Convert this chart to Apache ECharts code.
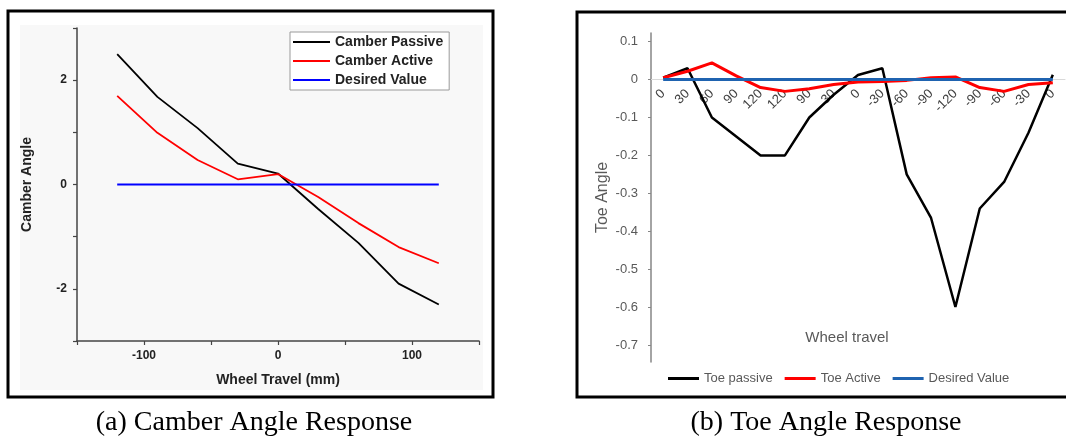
<!DOCTYPE html>
<html>
<head>
<meta charset="utf-8">
<script src="https://cdn.jsdelivr.net/npm/echarts@6/dist/echarts.min.js"></script>
<style>
  html, body { margin: 0; padding: 0; background: #fff; }
  #chart { width: 1066px; height: 443px; }
</style>
</head>
<body>
<div id="chart"></div>
<script>
// (a) camber angle vs wheel travel (mm)
const camberTravel = [-120, -90, -60, -30, 0, 30, 60, 90, 120];
const camberPassive = [2.5, 1.68, 1.08, 0.4, 0.21, -0.47, -1.12, -1.9, -2.3];
const camberActive = [1.7, 0.99, 0.47, 0.1, 0.2, -0.24, -0.74, -1.2, -1.51];
const camberDesired = [0, 0, 0, 0, 0, 0, 0, 0, 0];
const camberYLabels = [-2, 0, 2];
const camberXLabels = [-100, 0, 100];

// (b) toe angle over the wheel travel cycle
const toeTravel = ["0", "30", "60", "90", "120", "120", "90", "30", "0", "-30", "-60", "-90", "-120", "-90", "-60", "-30", "0"];
const toePassive = [0.005, 0.03, -0.1, -0.15, -0.2, -0.2, -0.1, -0.04, 0.012, 0.03, -0.25, -0.365, -0.6, -0.34, -0.27, -0.14, 0.013];
const toeActive = [0.005, 0.022, 0.044, 0.01, -0.021, -0.031, -0.024, -0.013, -0.006, -0.005, -0.002, 0.005, 0.007, -0.021, -0.031, -0.013, -0.008];
const toeDesired = [0, 0, 0, 0, 0, 0, 0, 0, 0, 0, 0, 0, 0, 0, 0, 0, 0];
const toeYLabels = [0.1, 0, -0.1, -0.2, -0.3, -0.4, -0.5, -0.6, -0.7];
const TOE_MIN = -0.745, TOE_MAX = 0.123;

const pairs = (xs, ys) => xs.map((x, i) => [x, ys[i]]);

const SANS = "Liberation Sans";
const SERIF = "Liberation Serif";
const GREY = "#595959";

// grid (b) geometry; category axis is lifted from the bottom up to the zero line
const gridB = { left: 651, top: 33, width: 414, height: 329 };
const zeroLift = gridB.height * (0 - TOE_MIN) / (TOE_MAX - TOE_MIN);

const chart = echarts.init(document.getElementById("chart"), null, { renderer: "canvas" });

chart.setOption({
  backgroundColor: "#ffffff",
  animation: false,
  grid: [
    { left: 77, top: 28, width: 402, height: 313 },
    gridB,
  ],
  xAxis: [
    {
      gridIndex: 0, type: "value", min: -150, max: 150, interval: 50,
      axisLine: { onZero: false, lineStyle: { color: "#444", width: 1.5 } },
      axisTick: { length: 4, lineStyle: { color: "#444", width: 1.2 } },
      axisLabel: { customValues: camberXLabels, margin: 9, color: "#222", fontFamily: SANS, fontSize: 12, fontWeight: "bold" },
      splitLine: { show: false },
      name: "Wheel Travel (mm)", nameLocation: "middle", nameGap: 32,
      nameTextStyle: { color: "#222", fontFamily: SANS, fontSize: 14, fontWeight: "bold" },
    },
    {
      gridIndex: 1, type: "category", data: toeTravel, boundaryGap: true,
      position: "bottom", offset: -zeroLift,
      axisLine: { onZero: false, lineStyle: { color: "#d9d9d9", width: 1 } },
      axisTick: { show: false },
      axisLabel: { interval: 0, rotate: 45, margin: 12, color: "#404040", fontFamily: SANS, fontSize: 13 },
      splitLine: { show: false },
    },
  ],
  yAxis: [
    {
      gridIndex: 0, type: "value", min: -3, max: 3, interval: 1,
      axisLine: { show: true, onZero: false, lineStyle: { color: "#444", width: 1.5 } },
      axisTick: { show: true, length: 4, lineStyle: { color: "#444", width: 1.2 } },
      axisLabel: { customValues: camberYLabels, margin: 10, color: "#222", fontFamily: SANS, fontSize: 12, fontWeight: "bold" },
      splitLine: { show: false },
      name: "Camber Angle", nameLocation: "middle", nameGap: 43,
      nameTextStyle: { color: "#222", fontFamily: SANS, fontSize: 14, fontWeight: "bold" },
    },
    {
      gridIndex: 1, type: "value", min: TOE_MIN, max: TOE_MAX,
      axisLine: { show: true, onZero: false, lineStyle: { color: "#868686", width: 1.5 } },
      axisTick: { show: true, customValues: toeYLabels, length: 3, lineStyle: { color: "#868686" } },
      axisLabel: { customValues: toeYLabels, margin: 13, color: GREY, fontFamily: SANS, fontSize: 13 },
      splitLine: { show: false },
      name: "Toe Angle", nameLocation: "middle", nameGap: 40,
      nameTextStyle: { color: GREY, fontFamily: SANS, fontSize: 16 },
    },
  ],
  legend: [
    {
      orient: "vertical", left: 290, top: 32,
      data: ["Camber Passive", "Camber Active", "Desired Value "],
      icon: "rect", itemWidth: 37, itemHeight: 2, itemGap: 5,
      padding: [3, 6, 3, 3],
      backgroundColor: "#fff", borderColor: "#9a9a9a", borderWidth: 1,
      textStyle: { color: "#222", fontFamily: SANS, fontSize: 14, fontWeight: "bold", lineHeight: 14 },
    },
    {
      orient: "horizontal", left: 663, top: 367,
      data: ["Toe passive", "Toe Active", "Desired Value"],
      icon: "rect", itemWidth: 31, itemHeight: 3, itemGap: 12,
      textStyle: { color: GREY, fontFamily: SANS, fontSize: 13 },
    },
  ],
  series: [
    { name: "Camber Passive", type: "line", xAxisIndex: 0, yAxisIndex: 0, data: pairs(camberTravel, camberPassive),
      symbol: "none", color: "#000000", lineStyle: { width: 1.8 } },
    { name: "Camber Active", type: "line", xAxisIndex: 0, yAxisIndex: 0, data: pairs(camberTravel, camberActive),
      symbol: "none", color: "#ff0000", lineStyle: { width: 1.8 } },
    { name: "Desired Value ", type: "line", xAxisIndex: 0, yAxisIndex: 0, data: pairs(camberTravel, camberDesired),
      symbol: "none", color: "#0000ff", lineStyle: { width: 1.8 } },
    { name: "Toe passive", type: "line", xAxisIndex: 1, yAxisIndex: 1, data: toePassive,
      symbol: "none", color: "#000000", lineStyle: { width: 2.5 } },
    { name: "Toe Active", type: "line", xAxisIndex: 1, yAxisIndex: 1, data: toeActive,
      symbol: "none", color: "#ff0000", lineStyle: { width: 3 } },
    { name: "Desired Value", type: "line", xAxisIndex: 1, yAxisIndex: 1, data: toeDesired,
      symbol: "none", color: "#1f63b0", lineStyle: { width: 3 } },
  ],
  graphic: [
    { type: "rect", z: -1, shape: { x: 20, y: 25, width: 463, height: 365 }, style: { fill: "#f8f8f8" } },
    { type: "rect", z: 100, shape: { x: 8, y: 11, width: 485, height: 386 }, style: { fill: "none", stroke: "#000", lineWidth: 3 } },
    { type: "rect", z: 100, shape: { x: 577, y: 12, width: 495, height: 385 }, style: { fill: "none", stroke: "#000", lineWidth: 3 } },
    { type: "text", x: 847, y: 338, style: { text: "Wheel travel", fill: GREY, fontFamily: SANS, fontSize: 15, align: "center", verticalAlign: "middle" } },
    { type: "text", x: 254, y: 423, style: { text: "(a) Camber Angle Response", fill: "#000", fontFamily: SERIF, fontSize: 28, align: "center", verticalAlign: "middle" } },
    { type: "text", x: 826, y: 423, style: { text: "(b) Toe Angle Response", fill: "#000", fontFamily: SERIF, fontSize: 28, align: "center", verticalAlign: "middle" } },
  ],
});
</script>
</body>
</html>
